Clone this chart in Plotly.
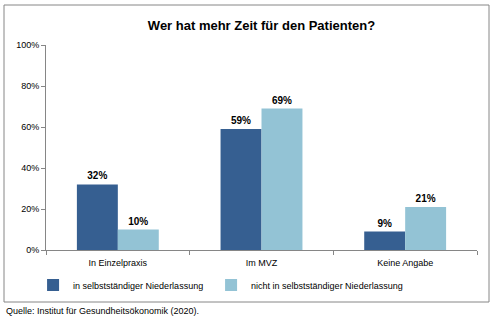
import plotly.graph_objects as go

categories = ["In Einzelpraxis", "Im MVZ", "Keine Angabe"]
series_names = ["in selbstständiger Niederlassung", "nicht in selbstständiger Niederlassung"]
values_selbst = [32, 59, 9]
values_nicht = [10, 69, 21]
tick_vals = [0, 20, 40, 60, 80, 100]
tick_text = ["0%", "20%", "40%", "60%", "80%", "100%"]

colors = ["#365F91", "#93C3D5"]
font_family = "Liberation Sans, Arial, sans-serif"

fig = go.Figure()
for name, vals, col, lg in zip(series_names, [values_selbst, values_nicht], colors, ["legend", "legend2"]):
    fig.add_trace(go.Bar(
        x=categories, y=vals, name=name, legend=lg,
        marker=dict(color=col, line=dict(width=0)),
        text=[f"{v}%" for v in vals], textposition="outside",
        textfont=dict(size=10, color="#000000", family=font_family, weight="bold"),
        cliponaxis=False,
    ))

leg_common = dict(orientation="h", xanchor="left", y=-0.10, yanchor="top",
                  font=dict(size=9), itemwidth=30, bgcolor="rgba(0,0,0,0)")

fig.update_layout(
    width=496, height=321,
    margin=dict(l=46, r=19, t=45, b=71),
    paper_bgcolor="white", plot_bgcolor="white",
    barmode="group", bargap=0.43, bargroupgap=0,
    font=dict(family=font_family, size=9, color="#000000"),
    title=dict(text="<b>Wer hat mehr Zeit für den Patienten?</b>",
               x=0.5, xref="paper", y=1 - 25 / 321, yanchor="middle",
               font=dict(size=13, family=font_family, color="#000000")),
    showlegend=True,
    legend=dict(x=-0.03, **leg_common),
    legend2=dict(x=0.383, **leg_common),
    xaxis=dict(showline=True, linecolor="#868686", linewidth=1,
               ticks="outside", ticklen=4, tickcolor="#868686", tickson="boundaries",
               ticklabelstandoff=4, tickfont=dict(size=9), showgrid=False),
    yaxis=dict(range=[0, 100], tickvals=tick_vals, ticktext=tick_text,
               showline=True, linecolor="#868686", linewidth=1,
               ticks="outside", ticklen=4, tickcolor="#868686",
               showgrid=False, zeroline=False, tickfont=dict(size=9)),
    shapes=[dict(type="rect", xref="paper", yref="paper",
                 x0=-42 / 431, x1=(489 - 46) / 431,
                 y0=(250 - 302) / 205, y1=(250 - 5) / 205,
                 line=dict(color="#868686", width=1), fillcolor="rgba(0,0,0,0)",
                 layer="below")],
    annotations=[dict(text="Quelle: Institut für Gesundheitsökonomik (2020).",
                      xref="paper", yref="paper", x=-42 / 431, xanchor="left",
                      y=(250 - 311) / 205, yanchor="middle", showarrow=False,
                      font=dict(size=9, family=font_family, color="#000000"))],
)

fig.write_html("out.html")
